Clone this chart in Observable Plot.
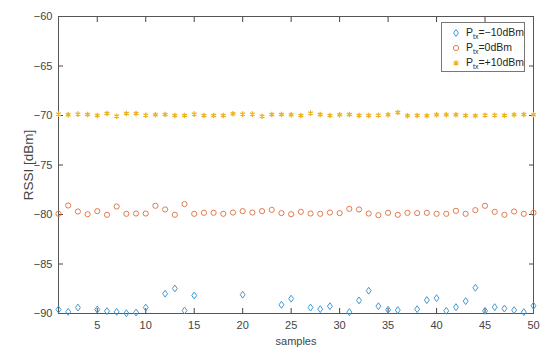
<!DOCTYPE html>
<html><head><meta charset="utf-8">
<script src="https://cdn.jsdelivr.net/npm/d3@7"></script>
<script src="https://cdn.jsdelivr.net/npm/@observablehq/plot@0.6"></script>
<style>
body{margin:0;background:#fff;font-family:"Liberation Sans",Arial,Helvetica,sans-serif;}
#wrap{position:relative;width:550px;height:355px;}
#legend{position:absolute;left:441px;top:22px;width:84px;height:50px;border:1px solid #777;background:#fff;font-size:10.5px;color:#262626;box-sizing:border-box;}
.row{position:absolute;left:0;height:14px;display:flex;align-items:center;white-space:nowrap;}
.row svg{margin-left:8px;margin-right:4px;}
sub{font-size:7px;vertical-align:-3px;}
</style></head><body><div id="wrap"><div id="legend"></div></div>
<script>
const samples = [1,2,3,4,5,6,7,8,9,10,11,12,13,14,15,16,17,18,19,20,21,22,23,24,25,26,27,28,29,30,31,32,33,34,35,36,37,38,39,40,41,42,43,44,45,46,47,48,49,50];
const rssiMinus10 = [-89.6,-89.83,-89.4,null,-89.6,-89.76,-89.83,-89.97,-89.9,-89.4,null,-88.0,-87.47,-89.7,-88.18,null,null,null,null,-88.1,null,null,null,-89.12,-88.5,null,-89.4,-89.56,-89.26,null,-89.86,-88.68,-87.7,-89.26,-89.63,-89.66,null,-89.56,-88.65,-88.45,-89.73,-89.36,-88.75,-87.4,-89.73,-89.36,-89.5,-89.66,-89.86,-89.22];
const rssi0 = [-79.93,-79.09,-79.7,-79.97,-79.66,-80.03,-79.19,-79.93,-79.9,-79.9,-79.12,-79.49,-80.03,-78.95,-79.93,-79.83,-79.83,-79.93,-79.8,-79.66,-79.8,-79.66,-79.53,-79.86,-79.97,-79.73,-79.9,-79.93,-79.8,-79.86,-79.43,-79.49,-79.9,-80.07,-79.83,-80.03,-79.83,-79.86,-79.83,-79.93,-79.93,-79.63,-79.93,-79.56,-79.12,-79.73,-80.03,-79.7,-79.93,-79.83];
const rssiPlus10 = [-69.86,-69.93,-69.86,-69.9,-70,-69.8,-70.07,-69.8,-69.8,-69.97,-69.93,-69.9,-70,-70,-69.86,-70,-70,-70,-69.83,-69.86,-69.86,-70.07,-69.9,-69.9,-69.93,-70,-69.76,-69.9,-70,-69.93,-69.9,-70,-70,-69.97,-69.93,-69.7,-70.03,-70,-70.03,-69.93,-69.93,-69.93,-70,-70.03,-69.97,-69.97,-70,-69.93,-69.9,-69.93];
const xTicks = [5,10,15,20,25,30,35,40,45,50];
const yTicks = [-90,-85,-80,-75,-70,-65,-60];
const seriesNames = ["=\u221210dBm","=0dBm","=+10dBm"];
const colors = ["#3f9ad2","#e07b50","#eeb324"];
const xLabel = "samples";
const yLabel = "RSSI [dBm]";

// MATLAB-like diamond (slightly taller than wide)
const diamondSym = {draw(ctx, size){ const r = Math.sqrt(size/Math.PI); const h = r*1.15, w = r*0.82; ctx.moveTo(0,-h); ctx.lineTo(w,0); ctx.lineTo(0,h); ctx.lineTo(-w,0); ctx.closePath(); }};
const symbols = [diamondSym, d3.symbolCircle, d3.symbolAsterisk];

const mk = (arr) => samples.map((s,i)=>({x:s,y:arr[i]})).filter(d=>d.y!=null);
const dBlue = mk(rssiMinus10), dOrange = mk(rssi0), dYellow = mk(rssiPlus10);

const axisColor = "#444";
const plot = Plot.plot({
  width: 550, height: 355,
  marginLeft: 58, marginRight: 17, marginTop: 16, marginBottom: 42,
  style: {fontFamily: '"Liberation Sans", Arial, sans-serif', fontSize: "11px", color: "#444", background: "#fff"},
  x: {domain: [1,50], ticks: xTicks},
  y: {domain: [-90,-60], ticks: yTicks},
  marks: [
    Plot.axisX({anchor:"bottom", ticks:xTicks, tickSize:-5, tickPadding:13, label:xLabel, labelAnchor:"center", labelOffset:31, labelArrow:"none", stroke:axisColor, fill:"#444"}),
    Plot.axisX({anchor:"top", ticks:xTicks, tickSize:-5, tickFormat:()=>"", label:null, stroke:axisColor}),
    Plot.axisY({anchor:"left", ticks:yTicks, tickSize:-5, tickPadding:11, label:null, stroke:axisColor, fill:"#444"}),
    Plot.axisY({anchor:"right", ticks:yTicks, tickSize:-5, tickFormat:()=>"", label:null, stroke:axisColor}),
    Plot.text([yLabel], {frameAnchor:"left", text:d=>d, rotate:-90, dx:-30, fontSize:13.5, fill:"#444", textAnchor:"middle", lineAnchor:"middle"}),
    Plot.frame({stroke:"#555", strokeWidth:1}),
    Plot.dot(dBlue, {x:"x", y:"y", symbol:()=>"b", r:3, stroke:colors[0], strokeWidth:1, fill:"none"}),
    Plot.dot(dOrange, {x:"x", y:"y", symbol:"circle", r:2.6, stroke:colors[1], strokeWidth:1, fill:"none"}),
    Plot.dot(dYellow, {x:"x", y:"y", symbol:"asterisk", r:2.6, stroke:colors[2], strokeWidth:1.3})
  ],
  symbol: {domain:["b"], range:[diamondSym]}
});
const wrap = document.getElementById("wrap");
wrap.insertBefore(plot, wrap.firstChild);

const legend = document.getElementById("legend");
const sizes = [Math.PI*3*3, Math.PI*2.6*2.6, Math.PI*2.6*2.6];
seriesNames.forEach((name,i)=>{
  const row = document.createElement("div");
  row.className = "row";
  row.style.top = (3 + i*15) + "px";
  const path = d3.symbol(symbols[i], sizes[i])();
  row.innerHTML = `<svg width="12" height="12" viewBox="-6 -6 12 12"><path d="${path}" fill="none" stroke="${colors[i]}" stroke-width="${i===2?1.3:1}"/></svg><span>P<sub>tx</sub>${name}</span>`;
  legend.appendChild(row);
});
</script></body></html>
